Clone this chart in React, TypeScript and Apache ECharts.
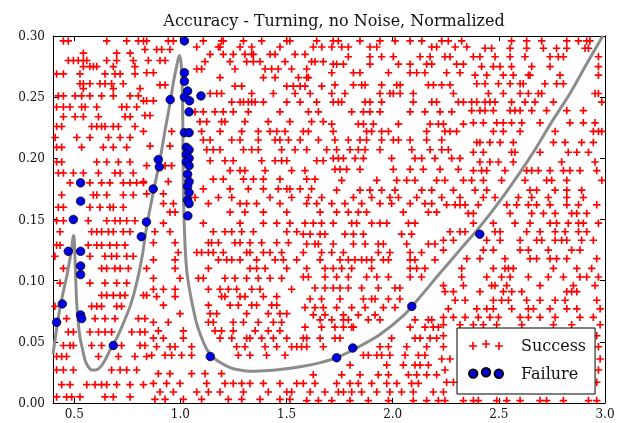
import React, { useEffect, useRef } from "react";
import * as echarts from "echarts";

const titleText = "Accuracy - Turning, no Noise, Normalized";
const xTicks = [0.5, 1.0, 1.5, 2.0, 2.5, 3.0];
const seriesNames = ["Success", "Failure"];

// Success points, read row by row (y, [x...]) from the reference, region by region
const successLeftTop: [number, number[]][] = [
  [0.296, [0.449, 0.472, 0.653, 0.747, 0.802]],
  [0.286, [0.543, 0.7, 0.763]],
  [0.28, [0.472, 0.496, 0.519, 0.543, 0.559, 0.653, 0.7, 0.778]],
  [0.275, [0.543, 0.574, 0.59, 0.606, 0.684, 0.786]],
  [0.269, [0.417, 0.449, 0.527, 0.645, 0.692, 0.716, 0.786]],
  [0.261, [0.527, 0.543, 0.574, 0.621, 0.645, 0.676, 0.731]],
  [0.257, [0.543, 0.684, 0.81]],
  [0.251, [0.425, 0.449, 0.504, 0.535, 0.574, 0.629, 0.684, 0.763, 0.802]],
  [0.242, [0.417, 0.449, 0.48, 0.535, 0.551, 0.606, 0.724, 0.747, 0.794]],
  [0.234, [0.449, 0.504, 0.543, 0.614, 0.739, 0.763]],
  [0.226, [0.417, 0.441, 0.582, 0.606, 0.629, 0.645, 0.684, 0.708, 0.786]],
  [0.217, [0.41, 0.512, 0.574, 0.661, 0.716, 0.763]],
  [0.209, [0.417, 0.441, 0.535, 0.637, 0.684, 0.747]],
];
const successLeftBottom: [number, number[]][] = [
  [0.197, [0.417, 0.441, 0.606, 0.653, 0.708, 0.763]],
  [0.188, [0.425, 0.449, 0.496, 0.543, 0.614, 0.692, 0.716, 0.778]],
  [0.18, [0.48, 0.574, 0.629, 0.668, 0.731, 0.763, 0.794, 0.826]],
  [0.17, [0.441, 0.59, 0.606, 0.653, 0.731, 0.778]],
  [0.16, [0.425, 0.449, 0.574, 0.621, 0.668, 0.684, 0.731]],
  [0.149, [0.417, 0.449, 0.566, 0.653, 0.692, 0.716, 0.747, 0.786]],
  [0.14, [0.433, 0.582, 0.606, 0.629, 0.661, 0.684, 0.731, 0.763]],
  [0.129, [0.417, 0.433, 0.566, 0.606, 0.629, 0.668, 0.7, 0.739]],
  [0.12, [0.409, 0.574, 0.645, 0.676, 0.7, 0.747, 0.778]],
  [0.11, [0.449, 0.629, 0.653, 0.692, 0.716, 0.755, 0.841]],
  [0.098, [0.433, 0.574, 0.645, 0.7, 0.747]],
  [0.088, [0.629, 0.653, 0.684, 0.716, 0.739, 0.826, 0.841]],
  [0.079, [0.409, 0.582, 0.606, 0.629, 0.7, 0.723]],
  [0.069, [0.464, 0.598, 0.645, 0.692, 0.802, 0.833]],
  [0.058, [0.472, 0.496, 0.574, 0.614, 0.645, 0.676, 0.771, 0.81, 0.833]],
  [0.047, [0.449, 0.48, 0.496, 0.582, 0.629, 0.723, 0.81, 0.833]],
  [0.038, [0.417, 0.441, 0.464, 0.614, 0.708, 0.786, 0.841]],
  [0.027, [0.417, 0.449, 0.496, 0.676, 0.716, 0.747, 0.794]],
  [0.015, [0.441, 0.48, 0.559, 0.598, 0.629, 0.653, 0.7, 0.763, 0.826]],
  [0.005, [0.417, 0.464, 0.488, 0.527, 0.645, 0.684, 0.763]],
];
const successSpikeTop: [number, number[]][] = [
  [0.296, [0.826, 0.841, 0.943, 0.967]],
  [0.289, [0.833, 0.888, 0.912, 0.951]],
  [0.28, [0.849, 0.904, 0.928]],
  [0.27, [0.841, 0.873]],
  [0.26, [0.904, 0.928]],
  [0.247, [0.826, 0.841, 0.873]],
  [0.235, [0.833, 0.857]],
  [0.222, [0.826, 0.959]],
  [0.21, [0.857, 0.951]],
  [0.194, [0.841, 0.928, 0.959]],
  [0.181, [0.826, 0.943]],
  [0.171, [0.841, 0.92]],
];
const successMidTop: [number, number[]][] = [
  [0.296, [1.108, 1.194, 1.202, 1.297, 1.383, 1.501, 1.516, 1.642]],
  [0.291, [1.077, 1.179, 1.187, 1.281, 1.336, 1.469, 1.626, 1.666]],
  [0.285, [1.14, 1.202, 1.249, 1.304, 1.336, 1.344, 1.422, 1.446, 1.54, 1.587]],
  [0.279, [1.116, 1.234, 1.312, 1.344, 1.375, 1.493, 1.618, 1.634, 1.673]],
  [0.273, [1.077, 1.1, 1.257, 1.399, 1.43, 1.461, 1.524, 1.595]],
  [0.266, [1.187, 1.391, 1.446, 1.556, 1.595, 1.603]],
  [0.259, [1.257, 1.289, 1.501, 1.532, 1.564, 1.587, 1.666]],
  [0.253, [1.14, 1.171, 1.194, 1.336, 1.438, 1.54, 1.611]],
  [0.246, [1.242, 1.281, 1.297, 1.32, 1.336, 1.352, 1.391, 1.501, 1.564, 1.642]],
  [0.238, [1.069, 1.108, 1.163, 1.202, 1.249, 1.32, 1.469, 1.603, 1.65]],
  [0.23, [1.092, 1.124, 1.194, 1.21, 1.304, 1.414, 1.516, 1.618, 1.673]],
  [0.222, [1.1, 1.187, 1.289, 1.367, 1.422, 1.454, 1.493, 1.579, 1.603]],
  [0.215, [1.108, 1.14, 1.242, 1.281, 1.367, 1.446, 1.469, 1.509, 1.564, 1.65]],
  [0.207, [1.124, 1.155, 1.187, 1.297, 1.336, 1.367, 1.477, 1.54, 1.595, 1.689]],
  [0.198, [1.14, 1.21, 1.249, 1.383, 1.446, 1.477, 1.501, 1.642, 1.673]],
  [0.19, [1.234, 1.281, 1.304, 1.399, 1.524, 1.587]],
  [0.183, [1.155, 1.202, 1.297, 1.344, 1.391, 1.469, 1.595, 1.634]],
  [0.175, [1.108, 1.234, 1.32, 1.391, 1.461, 1.501, 1.516, 1.564, 1.618]],
  [0.168, [1.069, 1.179, 1.242, 1.422, 1.524, 1.603, 1.666]],
];
const successRightMidTop: [number, number[]][] = [
  [0.296, [1.72, 1.744, 1.846, 1.94, 2.011, 2.082, 2.137, 2.231, 2.262, 2.325]],
  [0.291, [1.713, 1.76, 1.791, 1.893, 1.925, 2.184, 2.207, 2.294, 2.349]],
  [0.283, [1.791, 1.893, 1.948, 2.003, 2.129, 2.176, 2.246, 2.27]],
  [0.277, [1.72, 1.736, 1.768, 1.893, 2.027, 2.082, 2.16, 2.184, 2.301, 2.333]],
  [0.27, [1.713, 1.815, 1.846, 1.98, 2.082, 2.113, 2.152, 2.254, 2.317]],
  [0.26, [1.728, 1.815, 1.854, 1.87, 1.948, 2.019, 2.035, 2.168, 2.192, 2.231, 2.27]],
  [0.253, [1.713, 1.775, 1.94, 1.987, 2.003, 2.035, 2.097, 2.286]],
  [0.246, [1.72, 1.744, 1.76, 1.87, 1.893, 1.948, 2.097, 2.184, 2.207, 2.309, 2.333]],
  [0.238, [1.807, 1.862, 1.893, 1.94, 2.082, 2.152, 2.223, 2.278]],
  [0.228, [1.713, 1.838, 1.862, 1.909, 2.027, 2.176, 2.215, 2.239, 2.333]],
  [0.222, [1.72, 1.877, 1.901, 1.948, 1.98, 2.16, 2.246, 2.27, 2.301]],
  [0.215, [1.728, 1.791, 1.846, 1.877, 1.948, 2.003, 2.027, 2.082, 2.16, 2.231]],
  [0.207, [1.736, 1.799, 1.838, 1.87, 1.94, 2.09, 2.176, 2.231, 2.262]],
  [0.2, [1.72, 1.744, 1.768, 1.823, 1.862, 1.995, 2.105, 2.137, 2.199, 2.278, 2.317]],
  [0.191, [1.728, 1.752, 1.783, 1.846, 2.003, 2.082, 2.144, 2.223, 2.309]],
  [0.182, [1.76, 1.925, 2.019, 2.066, 2.105, 2.207, 2.246, 2.333]],
  [0.174, [1.736, 1.846, 1.893, 1.948, 2.011, 2.137, 2.184, 2.286]],
  [0.168, [1.815, 1.901, 1.987, 2.027, 2.113, 2.231, 2.317]],
];
const successRightTop: [number, number[]][] = [
  [0.296, [2.56, 2.631, 2.702, 2.82, 2.875, 2.914, 2.929]],
  [0.29, [2.435, 2.466, 2.553, 2.631, 2.71, 2.772, 2.82, 2.906, 2.922]],
  [0.283, [2.38, 2.411, 2.482, 2.553, 2.623, 2.741, 2.78, 2.804, 2.969]],
  [0.275, [2.419, 2.474, 2.506, 2.56, 2.655, 2.741, 2.969]],
  [0.268, [2.388, 2.443, 2.521, 2.568, 2.639, 2.647, 2.788, 2.969]],
  [0.261, [2.396, 2.435, 2.498, 2.553, 2.6, 2.615, 2.717, 2.772, 2.804]],
  [0.253, [2.451, 2.521, 2.6, 2.639, 2.686, 2.702, 2.953, 2.969]],
  [0.246, [2.372, 2.396, 2.435, 2.458, 2.482, 2.56, 2.623, 2.67, 2.757, 2.985]],
  [0.239, [2.372, 2.411, 2.435, 2.474, 2.553, 2.576, 2.6, 2.655, 2.725, 2.82, 2.898]],
  [0.229, [2.38, 2.427, 2.49, 2.521, 2.56, 2.608, 2.694, 2.835, 2.898, 2.953]],
  [0.222, [2.474, 2.521, 2.6, 2.765, 2.945, 2.969, 2.985]],
  [0.213, [2.396, 2.411, 2.458, 2.506, 2.568, 2.757, 2.812, 2.89, 2.945]],
  [0.205, [2.38, 2.427, 2.56, 2.576, 2.694, 2.827, 2.867, 2.922]],
  [0.197, [2.411, 2.458, 2.498, 2.568, 2.796, 2.953]],
  [0.19, [2.38, 2.419, 2.443, 2.529, 2.631, 2.655, 2.686, 2.741, 2.804, 2.835, 2.882, 2.961]],
  [0.182, [2.372, 2.427, 2.513, 2.623, 2.725, 2.749, 2.82, 2.985]],
  [0.174, [2.388, 2.443, 2.647, 2.678, 2.765, 2.82, 2.89]],
  [0.168, [2.427, 2.482, 2.592, 2.655, 2.733, 2.82, 2.898]],
];
const successMidBottom: [number, number[]][] = [
  [0.163, [0.92, 0.967, 1.132, 1.281, 1.312, 1.359, 1.469]],
  [0.156, [0.951, 0.975, 1.234, 1.304, 1.391, 1.501]],
  [0.147, [0.92, 1.108, 1.281, 1.391, 1.454, 1.516]],
  [0.14, [0.88, 0.951, 1.155, 1.21, 1.242, 1.289, 1.344, 1.501, 1.548]],
  [0.131, [0.873, 0.975, 1.132, 1.147, 1.179, 1.257, 1.281, 1.328, 1.383, 1.454, 1.509]],
  [0.123, [0.99, 1.077, 1.1, 1.132, 1.155, 1.202, 1.312, 1.328, 1.391, 1.422, 1.477]],
  [0.117, [0.873, 0.975, 1.179, 1.218, 1.242, 1.281, 1.359, 1.446, 1.485, 1.548]],
  [0.11, [0.975, 1.132, 1.328, 1.359, 1.399, 1.501]],
  [0.102, [0.873, 0.998, 1.085, 1.108, 1.21, 1.257, 1.312, 1.367, 1.422, 1.477]],
  [0.093, [0.873, 0.92, 0.975, 1.132, 1.187, 1.226, 1.265, 1.336, 1.375, 1.524]],
  [0.087, [0.888, 0.975, 1.194, 1.21, 1.281, 1.304, 1.391, 1.454]],
  [0.08, [0.92, 1.132, 1.234, 1.273, 1.336, 1.359, 1.43, 1.454]],
  [0.073, [0.998, 1.14, 1.171, 1.312, 1.414, 1.469, 1.501]],
  [0.066, [0.873, 0.943, 1.132, 1.155, 1.249, 1.297, 1.367, 1.438, 1.477]],
  [0.059, [0.896, 1.014, 1.163, 1.194, 1.249, 1.352, 1.414, 1.469]],
  [0.053, [0.873, 0.92, 1.014, 1.187, 1.242, 1.312, 1.328, 1.383, 1.438, 1.501]],
  [0.046, [0.888, 0.951, 0.975, 1.053, 1.265, 1.304, 1.399, 1.454, 1.524, 1.548]],
  [0.039, [0.865, 0.928, 0.959, 1.006, 1.053, 1.273, 1.328, 1.406, 1.493]],
  [0.024, [0.896, 0.951, 1.053, 1.116, 1.194]],
  [0.016, [0.873, 0.935, 0.998, 1.124, 1.21, 1.249, 1.289, 1.328, 1.391, 1.469, 1.548]],
  [0.009, [0.904, 0.967, 1.077, 1.132, 1.187, 1.297, 1.414, 1.501, 1.524]],
  [0.003, [0.88, 0.928, 1.014, 1.1, 1.226, 1.289, 1.375, 1.469, 1.516]],
];
const successCenterRight: [number, number[]][] = [
  [0.163, [1.595, 1.642, 1.713, 1.775, 1.854, 1.94, 1.995, 2.082, 2.152, 2.184]],
  [0.156, [1.658, 1.736, 1.791, 1.838, 1.877, 2.05, 2.168, 2.207]],
  [0.147, [1.587, 1.626, 1.665, 1.72, 1.807, 1.83, 1.901, 1.94, 1.972, 2.074, 2.105]],
  [0.138, [1.579, 1.611, 1.658, 1.681, 1.775, 1.815, 1.862, 2.042, 2.089]],
  [0.13, [1.595, 1.634, 1.65, 1.72, 1.815, 1.87, 1.932, 1.956, 2.066, 2.168, 2.199]],
  [0.123, [1.579, 1.665, 1.713, 1.768, 1.932, 1.987, 2.082, 2.136]],
  [0.117, [1.658, 1.752, 1.791, 1.822, 1.854, 1.877, 1.901, 1.956, 1.98, 2.082, 2.105, 2.199]],
  [0.11, [1.595, 1.681, 1.72, 1.76, 1.807, 1.901, 2.082, 2.113, 2.152]],
  [0.103, [1.579, 1.603, 1.681, 1.736, 1.791, 1.877, 1.925, 1.98, 2.082, 2.136]],
  [0.094, [1.634, 1.681, 1.72, 1.752, 1.791, 1.854, 1.932, 2.011, 2.034]],
  [0.085, [1.611, 1.665, 1.752, 1.862, 1.901, 1.917, 1.98, 2.034]],
  [0.078, [1.587, 1.634, 1.673, 1.736, 1.807, 1.87, 1.956, 2.011]],
  [0.072, [1.626, 1.681, 1.768, 1.838, 1.917]],
];
const successCenterBottom: [number, number[]][] = [
  [0.068, [1.658, 1.713, 1.768, 1.791, 1.885, 1.94, 2.105, 2.168, 2.184]],
  [0.062, [1.587, 1.665, 1.728, 1.768, 1.807, 1.815, 2.082, 2.152, 2.191, 2.215]],
  [0.053, [1.579, 1.595, 1.658, 1.728, 1.752, 1.995, 2.105, 2.129, 2.176, 2.207]],
  [0.046, [1.571, 1.595, 1.673, 1.94, 1.98, 2.066, 2.16]],
  [0.039, [1.862, 1.885, 1.925, 1.948, 1.987, 2.058, 2.121, 2.152]],
  [0.031, [1.799, 1.972, 2.05, 2.105, 2.129, 2.168]],
  [0.023, [1.626, 1.76, 1.846, 1.932, 1.98, 2.074, 2.113, 2.16, 2.207]],
  [0.016, [1.579, 1.634, 1.736, 1.799, 1.838, 1.901, 1.972, 2.019, 2.089, 2.121]],
  [0.009, [1.611, 1.681, 1.744, 1.768, 1.807, 1.854, 1.925, 1.987, 2.042, 2.097, 2.191]],
  [0.002, [1.595, 1.65, 1.713, 1.799, 1.885, 1.98, 2.097, 2.16, 2.215]],
];
const successRightBottom: [number, number[]][] = [
  [0.162, [2.254, 2.294, 2.317, 2.341, 2.403, 2.537, 2.584, 2.639, 2.678, 2.741, 2.82, 2.875, 2.961]],
  [0.155, [2.356, 2.38, 2.553, 2.655, 2.71, 2.765, 2.843, 2.867, 2.914]],
  [0.147, [2.38, 2.474, 2.576, 2.647, 2.741, 2.772, 2.827, 2.875, 2.898, 2.969]],
  [0.14, [2.27, 2.317, 2.341, 2.482, 2.506, 2.631, 2.694, 2.765, 2.812, 2.875, 2.914]],
  [0.133, [2.239, 2.286, 2.443, 2.506, 2.6, 2.678, 2.702, 2.765, 2.796, 2.82, 2.89, 2.945]],
  [0.125, [2.239, 2.427, 2.474, 2.6, 2.639, 2.733, 2.843, 2.882]],
  [0.118, [2.349, 2.411, 2.529, 2.647, 2.678, 2.741, 2.772, 2.82, 2.961]],
  [0.11, [2.325, 2.474, 2.529, 2.545, 2.568, 2.757, 2.867, 2.937]],
  [0.103, [2.325, 2.443, 2.513, 2.553, 2.639, 2.733, 2.804, 2.882, 2.914, 2.969]],
  [0.096, [2.239, 2.333, 2.466, 2.482, 2.537, 2.694, 2.851, 2.953]],
  [0.091, [2.246, 2.286, 2.411, 2.521, 2.561, 2.608, 2.82, 2.843, 2.867]],
  [0.084, [2.294, 2.341, 2.474, 2.513, 2.545, 2.631, 2.694, 2.765, 2.812, 2.961]],
  [0.077, [2.262, 2.396, 2.443, 2.474, 2.561, 2.639, 2.663, 2.741, 2.82, 2.867, 2.977]],
  [0.07, [2.239, 2.286, 2.341, 2.403, 2.458, 2.498, 2.6, 2.639, 2.694, 2.765, 2.882, 2.945]],
  [0.064, [2.239, 2.317, 2.38, 2.427, 2.49, 2.608, 2.757, 2.843, 2.977]],
  [0.055, [2.239, 2.961]],
  [0.046, [2.239, 2.969]],
  [0.036, [2.231, 2.27, 2.977]],
  [0.027, [2.246, 2.969]],
  [0.017, [2.254, 2.286, 2.961]],
  [0.009, [2.239]],
  [0.002, [2.246, 2.333, 2.38, 2.403, 2.49, 2.537, 2.6, 2.694, 2.725, 2.804, 2.922, 2.961]],
];

const failurePoints: [number, number][] = [
  [0.417, 0.066], [0.444, 0.081], [0.472, 0.124], [0.496, 0.15], [0.53, 0.18], [0.53, 0.165],
  [0.53, 0.124], [0.53, 0.112], [0.53, 0.105], [0.53, 0.072], [0.535, 0.069], [0.684, 0.047],
  [0.816, 0.136], [0.84, 0.148], [0.872, 0.175], [0.896, 0.199], [0.901, 0.193], [0.952, 0.248],
  [1.019, 0.296], [1.019, 0.27], [1.019, 0.263], [1.034, 0.255], [1.019, 0.25], [1.043, 0.247],
  [1.097, 0.251], [1.041, 0.238], [1.019, 0.221], [1.041, 0.221], [1.028, 0.209], [1.041, 0.207],
  [1.028, 0.203], [1.041, 0.2], [1.028, 0.197], [1.041, 0.194], [1.034, 0.187], [1.041, 0.181],
  [1.034, 0.177], [1.041, 0.172], [1.034, 0.166], [1.041, 0.163], [1.035, 0.153],
  [1.141, 0.038], [1.736, 0.037], [1.812, 0.045], [2.09, 0.079], [2.41, 0.138],
];

const boundaryCurve: [number, number][] = [
  [0.4, 0.04], [0.415, 0.058], [0.433, 0.078], [0.45, 0.092], [0.464, 0.103], [0.477, 0.115],
  [0.487, 0.125], [0.496, 0.137], [0.5, 0.134], [0.505, 0.111], [0.511, 0.084], [0.518, 0.067],
  [0.527, 0.054], [0.54, 0.043], [0.551, 0.035], [0.565, 0.03], [0.582, 0.027], [0.6, 0.027],
  [0.621, 0.029], [0.645, 0.035], [0.668, 0.043], [0.7, 0.053], [0.731, 0.065], [0.765, 0.08],
  [0.794, 0.098], [0.82, 0.12], [0.841, 0.144], [0.872, 0.172], [0.904, 0.199], [0.93, 0.225],
  [0.951, 0.245], [0.967, 0.262], [0.982, 0.275], [0.995, 0.284], [1.003, 0.278], [1.008, 0.262],
  [1.011, 0.235], [1.013, 0.195], [1.015, 0.165], [1.019, 0.142], [1.024, 0.122], [1.03, 0.108],
  [1.038, 0.098], [1.05, 0.086], [1.062, 0.076], [1.075, 0.066], [1.092, 0.057], [1.11, 0.049],
  [1.131, 0.042], [1.15, 0.038], [1.171, 0.035], [1.21, 0.031], [1.25, 0.028], [1.328, 0.026],
  [1.45, 0.027], [1.578, 0.03], [1.66, 0.033], [1.735, 0.037], [1.83, 0.045], [1.94, 0.056],
  [2.054, 0.072], [2.14, 0.089], [2.222, 0.106], [2.316, 0.125], [2.41, 0.144], [2.5, 0.164],
  [2.59, 0.186], [2.67, 0.207], [2.75, 0.23], [2.835, 0.253], [2.91, 0.276], [2.976, 0.296], [2.99, 0.3],
];

const FONT = "DejaVu Serif";

function toPoints(rows: [number, number[]][][]): [number, number][] {
  const out: [number, number][] = [];
  rows.forEach((group) => group.forEach(([y, xs]) => xs.forEach((x) => out.push([x, y]))));
  return out;
}

function crossPath(x0: number, y0: number) {
  return `M${x0 + 3.2},${y0}h1.6v3.2h3.2v1.6h-3.2v3.2h-1.6v-3.2h-3.2v-1.6h3.2z`;
}
function circlePath(cx: number, cy: number, r: number) {
  return `M${cx - r},${cy}a${r},${r} 0 1,0 ${2 * r},0a${r},${r} 0 1,0 ${-2 * r},0z`;
}

export default function App() {
  const ref = useRef<HTMLDivElement>(null);
  useEffect(() => {
    if (!ref.current) return;
    const chart = echarts.init(ref.current, null, { renderer: "svg" });
    const successPoints = toPoints([
      successLeftTop, successLeftBottom, successSpikeTop, successMidTop, successRightMidTop,
      successRightTop, successMidBottom, successCenterRight, successCenterBottom, successRightBottom,
    ]);
    const crossMarker = "path://M3.9,0H6.1V3.9H10V6.1H6.1V10H3.9V6.1H0V3.9H3.9Z";
    const successIcon = "path://" + crossPath(0, 2) + crossPath(13, 0) + crossPath(26, 2);
    const failureIcon = "path://" + circlePath(4.2, 5.6, 4.2) + circlePath(17, 4.2, 4.2) + circlePath(29.8, 5.8, 4.2);
    const axisCommon = {
      type: "value" as const,
      splitLine: { show: false },
      axisLine: { show: true, onZero: false, lineStyle: { color: "#000", width: 1 } },
    };
    chart.setOption({
      animation: false,
      title: {
        text: titleText,
        left: 329,
        top: 7,
        textAlign: "center",
        textStyle: { fontFamily: FONT, fontSize: 16, fontWeight: "normal", color: "#111" },
      },
      grid: { left: 53, right: 28, top: 36, bottom: 20, containLabel: false },
      xAxis: [
        {
          ...axisCommon,
          min: 0.4,
          max: 3.0,
          position: "bottom",
          axisTick: { show: true, inside: true, length: 5, customValues: xTicks, lineStyle: { color: "#000" } },
          axisLabel: {
            customValues: xTicks,
            formatter: (v: number) => v.toFixed(1),
            fontFamily: FONT,
            fontSize: 12,
            color: "#111",
            margin: 5,
          },
        },
        {
          ...axisCommon,
          min: 0.4,
          max: 3.0,
          position: "top",
          axisTick: { show: true, inside: true, length: 5, customValues: xTicks, lineStyle: { color: "#000" } },
          axisLabel: { show: false },
        },
      ],
      yAxis: [
        {
          ...axisCommon,
          min: 0,
          max: 0.3,
          interval: 0.05,
          position: "left",
          axisTick: { show: true, inside: true, length: 5, lineStyle: { color: "#000" } },
          axisLabel: {
            formatter: (v: number) => v.toFixed(2),
            fontFamily: FONT,
            fontSize: 12,
            color: "#111",
            margin: 8,
            showMinLabel: true,
            showMaxLabel: true,
          },
        },
        {
          ...axisCommon,
          min: 0,
          max: 0.3,
          interval: 0.05,
          position: "right",
          axisTick: { show: true, inside: true, length: 5, lineStyle: { color: "#000" } },
          axisLabel: { show: false },
        },
      ],
      legend: {
        data: [
          { name: seriesNames[0], icon: successIcon },
          { name: seriesNames[1], icon: failureIcon },
        ],
        orient: "vertical",
        left: 457,
        top: 328,
        itemWidth: 34,
        itemHeight: 10,
        itemGap: 8,
        padding: [7, 9, 11, 11],
        backgroundColor: "#fff",
        borderColor: "#000",
        borderWidth: 1,
        borderRadius: 0,
        selectedMode: false,
        z: 10,
        textStyle: { fontFamily: FONT, fontSize: 16, color: "#111", lineHeight: 20, padding: [0, 0, 0, 13] },
      },
      series: [
        {
          name: seriesNames[0],
          type: "scatter",
          data: successPoints,
          symbol: crossMarker,
          symbolSize: 7.5,
          itemStyle: { color: "#ff0000", opacity: 1 },
          emphasis: { disabled: true },
          silent: true,
          z: 2,
        },
        {
          name: "boundary",
          type: "line",
          data: boundaryCurve,
          showSymbol: false,
          symbol: "none",
          smooth: 0.3,
          clip: true,
          lineStyle: { color: "#8c8c8c", width: 3 },
          emphasis: { disabled: true },
          silent: true,
          z: 3,
        },
        {
          name: seriesNames[1],
          type: "scatter",
          data: failurePoints,
          symbol: "circle",
          symbolSize: 8.5,
          itemStyle: { color: "#0000e6", borderColor: "#000", borderWidth: 0.8, opacity: 1 },
          emphasis: { disabled: true },
          silent: true,
          z: 4,
        },
      ],
    });
    return () => chart.dispose();
  }, []);
  return <div ref={ref} style={{ position: "fixed", left: 0, top: 0, width: 633, height: 423 }} />;
}
